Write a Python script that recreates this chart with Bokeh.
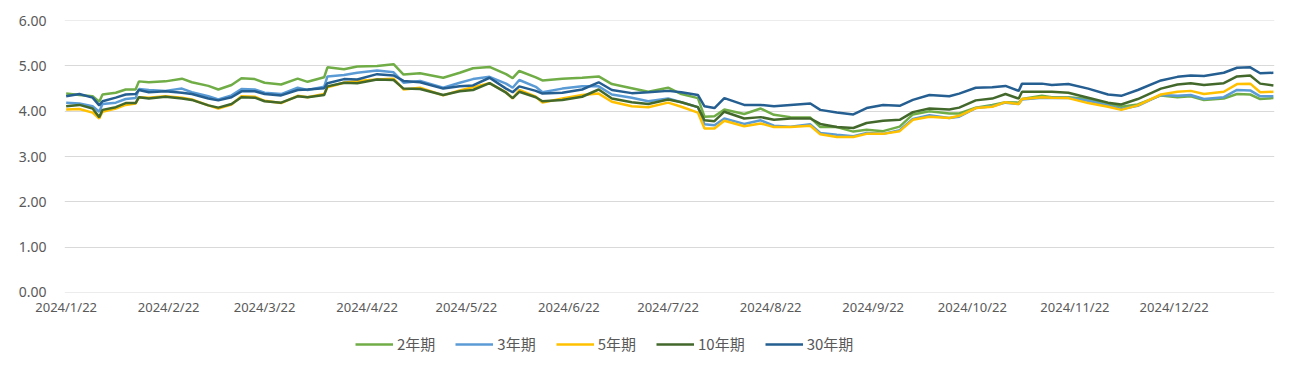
import pandas as pd
from bokeh.plotting import figure
from bokeh.layouts import column
from bokeh.models import (ColumnDataSource, Range1d, FixedTicker, CustomJSTickFormatter,
                          Legend, LegendItem, NumeralTickFormatter)
from bokeh.embed import file_html
from bokeh.resources import INLINE

dates = [
    "2024-01-22", "2024-01-26", "2024-01-30", "2024-02-01", "2024-02-02", "2024-02-06",
    "2024-02-09", "2024-02-12", "2024-02-13", "2024-02-16", "2024-02-21", "2024-02-26",
    "2024-02-29", "2024-03-05", "2024-03-08", "2024-03-12", "2024-03-15", "2024-03-19",
    "2024-03-22", "2024-03-27", "2024-04-01", "2024-04-04", "2024-04-09", "2024-04-10",
    "2024-04-15", "2024-04-19", "2024-04-25", "2024-04-30", "2024-05-03", "2024-05-08",
    "2024-05-15", "2024-05-20", "2024-05-24", "2024-05-29", "2024-06-03", "2024-06-05",
    "2024-06-07", "2024-06-12", "2024-06-14", "2024-06-20", "2024-06-26", "2024-07-01",
    "2024-07-05", "2024-07-11", "2024-07-16", "2024-07-22", "2024-07-26", "2024-07-31",
    "2024-08-02", "2024-08-05", "2024-08-08", "2024-08-14", "2024-08-19", "2024-08-23",
    "2024-08-28", "2024-09-03", "2024-09-06", "2024-09-11", "2024-09-16", "2024-09-20",
    "2024-09-25", "2024-09-30", "2024-10-04", "2024-10-09", "2024-10-15", "2024-10-18",
    "2024-10-23", "2024-10-28", "2024-11-01", "2024-11-05", "2024-11-06", "2024-11-12",
    "2024-11-15", "2024-11-20", "2024-11-26", "2024-12-02", "2024-12-06", "2024-12-11",
    "2024-12-18", "2024-12-23", "2024-12-27", "2024-12-31", "2025-01-06", "2025-01-10",
    "2025-01-14", "2025-01-17", "2025-01-21",
]

y2 = [4.39, 4.36, 4.33, 4.21, 4.37, 4.41, 4.48, 4.48, 4.66, 4.64, 4.66, 4.72,
      4.64, 4.56, 4.48, 4.58, 4.73, 4.71, 4.63, 4.59, 4.72, 4.65, 4.75, 4.97,
      4.93, 4.99, 5.00, 5.04, 4.81, 4.84, 4.74, 4.85, 4.95, 4.98, 4.82, 4.73,
      4.89, 4.75, 4.68, 4.72, 4.74, 4.77, 4.60, 4.51, 4.43, 4.52, 4.38, 4.29,
      3.88, 3.89, 4.04, 3.94, 4.06, 3.92, 3.87, 3.86, 3.65, 3.65, 3.55, 3.59,
      3.56, 3.66, 3.93, 4.00, 3.95, 3.95, 4.08, 4.14, 4.20, 4.19, 4.27, 4.34,
      4.31, 4.31, 4.27, 4.17, 4.10, 4.15, 4.35, 4.31, 4.33, 4.25, 4.28, 4.38,
      4.37, 4.27, 4.29]

y3 = [4.19, 4.17, 4.11, 3.99, 4.16, 4.19, 4.27, 4.29, 4.49, 4.47, 4.45, 4.50,
      4.42, 4.33, 4.26, 4.35, 4.49, 4.48, 4.41, 4.38, 4.52, 4.47, 4.54, 4.77,
      4.80, 4.85, 4.90, 4.86, 4.63, 4.67, 4.52, 4.63, 4.71, 4.76, 4.61, 4.52,
      4.69, 4.54, 4.42, 4.50, 4.55, 4.55, 4.37, 4.30, 4.22, 4.28, 4.20, 4.09,
      3.71, 3.69, 3.84, 3.72, 3.80, 3.68, 3.66, 3.71, 3.52, 3.48, 3.45, 3.52,
      3.50, 3.58, 3.83, 3.91, 3.85, 3.88, 4.07, 4.11, 4.19, 4.16, 4.26, 4.30,
      4.29, 4.30, 4.23, 4.13, 4.05, 4.12, 4.36, 4.34, 4.36, 4.27, 4.31, 4.47,
      4.46, 4.33, 4.33]

y5 = [4.04, 4.05, 3.97, 3.84, 3.99, 4.06, 4.14, 4.17, 4.31, 4.30, 4.33, 4.30,
      4.26, 4.13, 4.06, 4.15, 4.33, 4.32, 4.23, 4.18, 4.34, 4.31, 4.38, 4.53,
      4.63, 4.67, 4.70, 4.72, 4.48, 4.52, 4.35, 4.46, 4.53, 4.62, 4.42, 4.28,
      4.47, 4.32, 4.19, 4.28, 4.36, 4.39, 4.21, 4.11, 4.09, 4.19, 4.10, 3.97,
      3.62, 3.62, 3.79, 3.67, 3.73, 3.65, 3.65, 3.68, 3.49, 3.43, 3.43, 3.50,
      3.50, 3.56, 3.81, 3.88, 3.85, 3.90, 4.07, 4.10, 4.20, 4.16, 4.27, 4.31,
      4.30, 4.29, 4.18, 4.10, 4.03, 4.13, 4.37, 4.43, 4.45, 4.38, 4.43, 4.60,
      4.61, 4.42, 4.43]

y10 = [4.11, 4.14, 4.06, 3.87, 4.03, 4.09, 4.18, 4.18, 4.31, 4.28, 4.32, 4.28,
       4.25, 4.13, 4.08, 4.16, 4.31, 4.30, 4.22, 4.19, 4.33, 4.31, 4.36, 4.55,
       4.63, 4.62, 4.70, 4.69, 4.50, 4.49, 4.36, 4.44, 4.47, 4.62, 4.41, 4.29,
       4.43, 4.31, 4.22, 4.25, 4.32, 4.48, 4.28, 4.20, 4.16, 4.26, 4.20, 4.09,
       3.80, 3.78, 3.99, 3.84, 3.87, 3.81, 3.84, 3.84, 3.72, 3.65, 3.63, 3.74,
       3.79, 3.81, 3.98, 4.06, 4.04, 4.08, 4.24, 4.28, 4.38, 4.28, 4.43, 4.43,
       4.43, 4.41, 4.30, 4.19, 4.15, 4.27, 4.50, 4.59, 4.62, 4.58, 4.62, 4.77,
       4.79, 4.61, 4.57]

y30 = [4.33, 4.38, 4.30, 4.13, 4.22, 4.30, 4.37, 4.38, 4.47, 4.42, 4.44, 4.41,
       4.38, 4.28, 4.24, 4.31, 4.44, 4.44, 4.38, 4.35, 4.47, 4.48, 4.51, 4.62,
       4.71, 4.70, 4.82, 4.79, 4.67, 4.64, 4.50, 4.55, 4.57, 4.74, 4.50, 4.42,
       4.55, 4.45, 4.39, 4.41, 4.48, 4.64, 4.47, 4.40, 4.42, 4.45, 4.42, 4.36,
       4.11, 4.07, 4.29, 4.14, 4.14, 4.11, 4.14, 4.17, 4.03, 3.97, 3.93, 4.07,
       4.14, 4.12, 4.25, 4.36, 4.33, 4.39, 4.52, 4.53, 4.56, 4.45, 4.61, 4.61,
       4.58, 4.60, 4.50, 4.37, 4.34, 4.47, 4.68, 4.76, 4.79, 4.78, 4.85, 4.96,
       4.97, 4.84, 4.85]

series_names = ["2年期", "3年期", "5年期", "10年期", "30年期"]
series_keys = ["y2", "y3", "y5", "y10", "y30"]
series_colors = ["#70AD47", "#5B9BD5", "#FFC000", "#43682B", "#255E91"]

tick_dates = ["2024-%d-22" % m for m in range(1, 13)]
y_ticks = [0, 1, 2, 3, 4, 5, 6]

src = ColumnDataSource(dict(x=pd.to_datetime(dates), y2=y2, y3=y3, y5=y5, y10=y10, y30=y30))
x_start = pd.Timestamp("2024-01-21 12:00")
x_end = pd.Timestamp("2025-01-21 08:00")

# ---------------- main chart ----------------
p = figure(x_axis_type="datetime", frame_width=1210, frame_height=272,
           output_backend="svg", toolbar_location=None,
           min_border_left=64, min_border_right=16, min_border_top=20, min_border_bottom=30,
           x_range=Range1d(x_start, x_end), y_range=Range1d(-0.005, 6.005))
p.outline_line_color = None
p.background_fill_color = "white"

for key, col in zip(series_keys, series_colors):
    p.line("x", key, source=src, line_color=col, line_width=2.5)

p.yaxis.ticker = FixedTicker(ticks=y_ticks)
p.yaxis.formatter = NumeralTickFormatter(format="0.00")
p.yaxis.axis_line_color = None
p.yaxis.major_tick_line_color = None
p.yaxis.minor_tick_line_color = None
p.yaxis.major_tick_out = 0
p.yaxis.major_label_standoff = 18
p.yaxis.major_label_text_font = "Noto Sans"
p.yaxis.major_label_text_font_size = "14px"
p.yaxis.major_label_text_color = "#595959"

tick_ms = [pd.Timestamp(d).value // 10**6 for d in tick_dates]
p.xaxis.ticker = FixedTicker(ticks=tick_ms)
p.xaxis.formatter = CustomJSTickFormatter(code="""
const d = new Date(tick);
return d.getUTCFullYear() + '/' + (d.getUTCMonth() + 1) + '/' + d.getUTCDate();
""")
p.xaxis.axis_line_color = None
p.xaxis.major_tick_line_color = None
p.xaxis.minor_tick_line_color = None
p.xaxis.major_tick_out = 0
p.xaxis.major_label_standoff = 5
p.xaxis.major_label_text_font = "Noto Sans"
p.xaxis.major_label_text_font_size = "13px"
p.xaxis.major_label_text_color = "#595959"

p.xgrid.visible = False
p.ygrid.grid_line_color = "#D9D9D9"
p.ygrid.grid_line_width = 1

# ---------------- legend strip (series lie outside its y range) ----------------
lg = figure(x_axis_type="datetime", width=1290, height=40, output_backend="svg",
            toolbar_location=None, x_axis_location=None, y_axis_location=None, min_border=0,
            x_range=Range1d(x_start, x_end), y_range=Range1d(0, 1))
lg.outline_line_color = None
lg.grid.visible = False

items = []
for name, key, col in zip(series_names, series_keys, series_colors):
    r = lg.line("x", key, source=src, line_color=col, line_width=2.5)
    items.append(LegendItem(label=name, renderers=[r]))

legend = Legend(items=items, orientation="horizontal", location=(291, 8))
legend.glyph_width = 38
legend.glyph_height = 16
legend.label_standoff = 4
legend.spacing = 20
legend.padding = 0
legend.margin = 0
legend.border_line_color = None
legend.background_fill_alpha = 0
legend.label_text_font = "Noto Sans CJK SC"
legend.label_text_font_size = "15px"
legend.label_text_color = "#595959"
lg.add_layout(legend)

open("out.html", "w").write(file_html(column(p, lg, spacing=0), INLINE))
